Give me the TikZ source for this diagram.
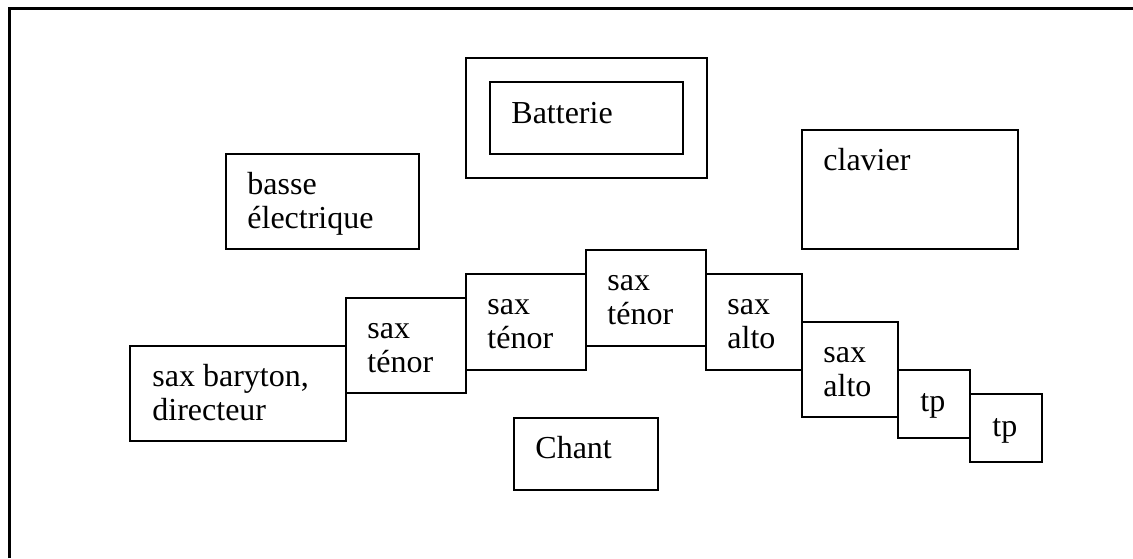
\documentclass[tikz,border=0pt]{standalone}
\usepackage{fontspec}
\setmainfont{Liberation Serif}
\usepackage{tikz}
\tikzset{pupitre/.style={anchor=base west, inner sep=0pt, align=left, font=\fontsize{16}{17}\selectfont},
    cadre/.style={line width=1pt}}

\begin{document}
\begin{tikzpicture}[x=0.5pt,y=-0.5pt]
                 \useasboundingbox (0,0) rectangle (1133,558);
                 \draw[line width=1.5pt](9,558)--(9,8)--(1133,8);

                 \draw[cadre](466,58) rectangle (707,178);
                 \draw[cadre](490,82) rectangle (683,154);
                 \node[pupitre] (batterie) at (511,123) {Batterie};

                 % multi-line nodes sit on their last baseline
                 \draw[cadre](226,154) rectangle (419,249);
                 \node[pupitre] (basse) at (247,228) {basse\\électrique};

                 \draw[cadre](802,130) rectangle (1018,249);
                 \node[pupitre] (clavier) at (823,170) {clavier};

                 \draw[cadre](130,346) rectangle (346,441);
                 \node[pupitre] (baryton) at (152,420) {sax baryton,\\directeur};

                 \draw[cadre](346,298) rectangle (466,393);
                 \node[pupitre] (tenorA) at (367,372) {sax\\ténor};
                 \draw[cadre](466,274) rectangle (586,370);
                 \node[pupitre] (tenorB) at (487,348) {sax\\ténor};
                 \draw[cadre](586,250) rectangle (706,346);
                 \node[pupitre] (tenorC) at (607,324) {sax\\ténor};

                 \draw[cadre](706,274) rectangle (802,370);
                 \node[pupitre] (altoA) at (727,348) {sax\\alto};
                 \draw[cadre](802,322) rectangle (898,417);
                 \node[pupitre] (altoB) at (823,396) {sax\\alto};

                 \draw[cadre](898,370) rectangle (970,438);
                 \node[pupitre] (tpA) at (920,411) {tp};
                 \draw[cadre](970,394) rectangle (1042,462);
                 \node[pupitre] (tpB) at (992,436) {tp};

                 \draw[cadre](514,418) rectangle (658,490);
                 \node[pupitre] (chant) at (535,458) {Chant};
             \end{tikzpicture}
\end{document}
